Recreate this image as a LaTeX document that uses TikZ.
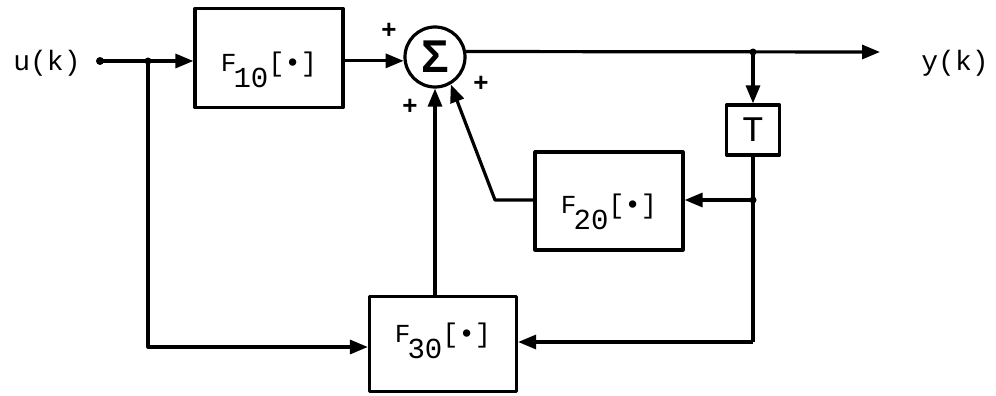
\documentclass[tikz,border=0pt]{standalone}
\usepackage{fontspec}
\setmainfont{Liberation Mono}
\newfontfamily\sansf{Liberation Sans}
\usetikzlibrary{arrows.meta,calc}
\newcommand\flab[2]{\raisebox{#2}[0pt][0pt]{\fontsize{26}{26}\selectfont F\kern-3pt\raisebox{-16pt}{\fontsize{29}{29}\selectfont #1}\fontsize{27}{27}\selectfont[•]}}
\begin{document}
\begin{tikzpicture}[x=1pt,y=-1pt, line width=3.2pt, line join=round,
 box/.style={draw, rectangle, inner sep=0pt, minimum width=148pt, minimum height=98pt},
 sig/.style={draw, circle, minimum size=60pt, inner sep=0pt},
 arr/.style={-{Triangle[length=18pt,width=14pt]}},
 dot/.style={circle, fill, inner sep=0pt, minimum size=8pt},
 txt/.style={font=\fontsize{28}{28}\selectfont, inner sep=0pt},
 plus/.style={font=\sansf\bfseries\fontsize{26}{26}\selectfont, inner sep=0pt}]
\useasboundingbox (0,0) rectangle (996,396);
\node[txt] (u) at (47,63) {u(k)};
\node[dot] (s) at (100,61) {};
\node[dot, minimum size=7pt] (j1) at (148,61) {};
\node[box, minimum height=99pt] (F10) at (269,58) {\flab{10}{-14pt}};
\node[sig] (S) at (435,57) {\sansf\bfseries\fontsize{46}{46}\selectfont Σ};
\node[box, minimum width=53pt, minimum height=50pt] (T) at (753,130) {\fontsize{36}{36}\selectfont T};
\node[box] (F20) at (609,201) {\flab{20}{-12pt}};
\node[box, minimum width=147pt, minimum height=95pt] (F30) at (443,344) {\flab{30}{2pt}};
\coordinate (yout) at (880,52);
\node[dot, minimum size=7pt] (j2) at (753,52) {};
\node[dot, minimum size=7pt] (j3) at (753,200) {};
\coordinate (c1) at (495,200);
\coordinate (c2) at (753,342);
\coordinate (c3) at (148,347);
\node[txt] (y) at (955,63) {y(k)};
\node[plus] (p1) at (389,31) {+};
\node[plus] (p2) at (410,107) {+};
\node[plus] (p3) at (481,84) {+};
\draw (s.center) -- (j1.center);
\draw[arr] (j1.center) -- (F10.west |- j1);
\draw[arr] (F10.east |- S.187) -- (S.187);
\draw[arr] (S.10) -- (yout);
\draw[arr] (j2.center) -- (T.north);
\draw (T.south) -- (j3.center) -- (c2);
\draw[arr] (j3.center) -- (F20.east |- j3);
\draw[arr] (F20.west |- j3) -- (c1) -- (S.-60);
\draw[arr] (c2) -- (c2 -| F30.east);
\draw[arr] (j1.center) -- (c3) -- (c3 -| F30.west);
\draw[arr] (S.south |- F30.north) -- (S.south);
\end{tikzpicture}
\end{document}
